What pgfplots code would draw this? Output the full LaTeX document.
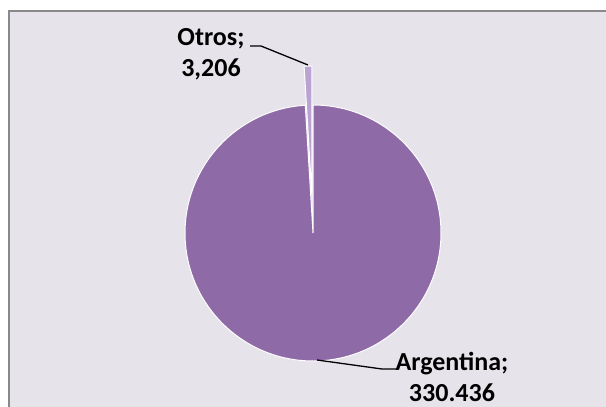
\documentclass[border=0pt]{standalone}
\usepackage{fontspec}
\setmainfont{Carlito}
\usepackage{pgfplots}
\usepackage{pgfplotstable}
\pgfplotsset{compat=1.18}
\definecolor{bgc}{RGB}{230,227,235}
\definecolor{argc}{RGB}{142,106,166}
\definecolor{otrc}{RGB}{186,163,210}
\definecolor{brd}{RGB}{137,137,137}
\pgfplotstableread{
label value
Argentina 330.436
Otros 3.206
}\piedata
\pgfplotstablegetelem{0}{value}\of\piedata \let\vA\pgfplotsretval
\pgfplotstablegetelem{1}{value}\of\piedata \let\vB\pgfplotsretval
\pgfmathsetmacro{\tot}{\vA+\vB}
\pgfmathsetmacro{\angA}{(\vA/\tot)*360}
\pgfmathsetmacro{\angB}{(\vB/\tot)*360}
\pgfmathsetmacro{\midang}{90+\angB/2}
\pgfmathsetmacro{\endB}{90+\angB}
\begin{document}%
\begin{tikzpicture}
\path[use as bounding box] (0,0) rectangle (606pt,407pt);
\begin{axis}[x=1pt,y=1pt,xmin=0,xmax=606,ymin=0,ymax=407,hide axis,scale only axis,clip=false,at={(0pt,0pt)},anchor=origin]
\fill[bgc] (axis cs:8,0) rectangle (axis cs:606,397);
\draw[brd,line width=2.5pt] (axis cs:9,0) -- (axis cs:9,396) -- (axis cs:606,396);
\filldraw[fill=argc,draw=white,line width=1pt] (axis cs:313,174) -- ++(90:128pt) arc[start angle=90,delta angle=-\angA,radius=128pt] -- cycle;
\filldraw[fill=otrc,draw=white,line width=1pt] (axis cs:313,174) ++(\midang:39pt) -- ++(\endB:128pt) arc[start angle=\endB,delta angle=-\angB,radius=128pt] -- cycle;
\draw[black,line width=1.3pt] (axis cs:250,361) -- (axis cs:261,361) -- (axis cs:308,342);
\draw[black,line width=1.3pt] (axis cs:317,47) -- (axis cs:382,38) -- (axis cs:397,38);
\node[align=center,inner sep=0pt,font=\bfseries\fontsize{26}{31}\selectfont] at (axis cs:211,353) {Otros;\\3,206};
\node[align=center,inner sep=0pt,font=\bfseries\fontsize{26}{31}\selectfont] at (axis cs:452,30) {Argentina;\\330.436};
\end{axis}
\end{tikzpicture}%
\end{document}
